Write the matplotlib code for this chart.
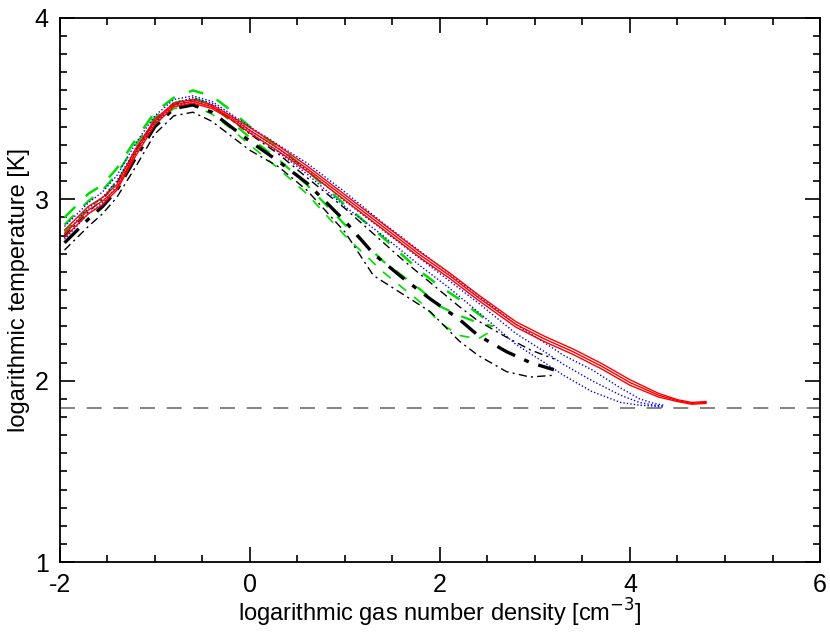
import matplotlib
matplotlib.use("Agg")
import matplotlib.pyplot as plt
from matplotlib.ticker import MultipleLocator

plt.rcParams["font.family"] = ["Liberation Sans", "DejaVu Sans"]
plt.rcParams["axes.unicode_minus"] = False

# red solid tracks
red_x = [-1.95, -1.7, -1.55, -1.4, -1.2, -1.0, -0.8, -0.6, -0.4, -0.2, 0.0, 0.3, 0.6, 1.0,
         1.4, 1.8, 2.1, 2.4, 2.8, 3.1, 3.4, 3.7, 4.0, 4.3, 4.5, 4.65, 4.8]
red_y1 = [2.81, 2.94, 2.99, 3.06, 3.26, 3.43, 3.52, 3.54, 3.51, 3.45, 3.38, 3.28, 3.17, 3.01,
          2.85, 2.69, 2.58, 2.46, 2.31, 2.23, 2.16, 2.08, 1.99, 1.92, 1.89, 1.875, 1.88]
red_y2 = [2.83, 2.96, 3.01, 3.08, 3.28, 3.44, 3.53, 3.55, 3.52, 3.46, 3.395, 3.295, 3.185, 3.025,
          2.865, 2.705, 2.595, 2.475, 2.325, 2.245, 2.175, 2.095, 2.005, 1.93, 1.895, 1.88, 1.885]
red_y3 = [2.79, 2.92, 2.97, 3.05, 3.24, 3.41, 3.51, 3.53, 3.50, 3.44, 3.365, 3.265, 3.155, 2.995,
          2.835, 2.675, 2.565, 2.445, 2.295, 2.215, 2.145, 2.065, 1.975, 1.91, 1.885, 1.87, 1.875]

# blue dotted tracks
blue_x = [-1.95, -1.7, -1.55, -1.4, -1.2, -1.0, -0.8, -0.6, -0.4, -0.2, 0.0, 0.3, 0.6, 1.0,
          1.4, 1.8, 2.1, 2.4, 2.8, 3.1, 3.3, 3.6, 3.9, 4.1, 4.25, 4.35]
blue_y1 = [2.85, 2.98, 3.04, 3.13, 3.31, 3.46, 3.55, 3.57, 3.54, 3.47, 3.40, 3.30, 3.20, 3.04,
           2.87, 2.71, 2.59, 2.47, 2.31, 2.21, 2.14, 2.06, 1.96, 1.90, 1.875, 1.865]
blue_y2 = [2.81, 2.95, 3.01, 3.10, 3.28, 3.44, 3.53, 3.56, 3.53, 3.46, 3.38, 3.28, 3.16, 2.99,
           2.83, 2.67, 2.55, 2.43, 2.26, 2.16, 2.09, 2.00, 1.92, 1.88, 1.865, 1.86]
blue_y3 = [2.78, 2.92, 2.98, 3.07, 3.25, 3.42, 3.51, 3.54, 3.51, 3.44, 3.37, 3.26, 3.14, 2.96,
           2.80, 2.63, 2.51, 2.38, 2.20, 2.10, 2.03, 1.94, 1.88, 1.865, 1.86, 1.855]

# green dashed tracks
green_x = [-1.95, -1.7, -1.55, -1.4, -1.2, -1.0, -0.8, -0.6, -0.4, -0.2, 0.0, 0.3, 0.6, 1.0,
           1.4, 1.8, 2.0, 2.2, 2.4, 2.56]
green_y1 = [2.90, 3.03, 3.08, 3.17, 3.33, 3.48, 3.56, 3.60, 3.57, 3.49, 3.40, 3.29, 3.16, 2.97,
            2.79, 2.60, 2.52, 2.45, 2.37, 2.31]
green_y2 = [2.86, 2.99, 3.05, 3.14, 3.30, 3.45, 3.53, 3.56, 3.52, 3.43, 3.34, 3.22, 3.08, 2.86,
            2.66, 2.50, 2.41, 2.36, 2.32, 2.30]
green_y3 = [2.82, 2.95, 3.01, 3.10, 3.27, 3.42, 3.50, 3.52, 3.47, 3.39, 3.30, 3.17, 3.03, 2.80,
            2.60, 2.43, 2.32, 2.25, 2.23, 2.28]

# black dash-dot tracks
black_x = [-1.95, -1.7, -1.55, -1.4, -1.2, -1.0, -0.8, -0.6, -0.4, -0.2, 0.0, 0.3, 0.6, 1.0,
           1.3, 1.6, 1.9, 2.2, 2.4, 2.7, 2.95, 3.2]
black_y1 = [2.80, 2.93, 3.00, 3.09, 3.27, 3.43, 3.52, 3.55, 3.52, 3.44, 3.36, 3.25, 3.12, 2.95,
            2.81, 2.67, 2.54, 2.41, 2.33, 2.24, 2.17, 2.12]
black_y2 = [2.76, 2.89, 2.96, 3.05, 3.23, 3.40, 3.50, 3.52, 3.48, 3.40, 3.32, 3.21, 3.09, 2.88,
            2.70, 2.57, 2.45, 2.34, 2.25, 2.16, 2.10, 2.06]
black_y3 = [2.72, 2.85, 2.92, 3.01, 3.18, 3.36, 3.46, 3.48, 3.43, 3.35, 3.27, 3.18, 3.05, 2.82,
            2.58, 2.48, 2.38, 2.22, 2.14, 2.05, 2.02, 2.03]

floor_temp = 1.85


def main():
    fig = plt.figure(figsize=(8.3, 6.38), dpi=100)
    ax = fig.add_axes([0.072, 0.119, 0.916, 0.853])

    ax.axhline(floor_temp, color="#707070", lw=1.2, ls=(0, (9, 7)), zorder=1)

    for y in (red_y1, red_y2, red_y3):
        ax.plot(red_x, y, color="red", lw=1.0, ls="-", zorder=4)
    for y in (blue_y1, blue_y2, blue_y3):
        ax.plot(blue_x, y, color="blue", lw=1.0, ls=(0, (1, 1.5)), zorder=3)
    for y, lw in zip((green_y1, green_y2, green_y3), (1.8, 1.6, 1.2)):
        ax.plot(green_x, y, color="#00dd00", lw=lw, ls=(0, (6, 6)), zorder=2)
    for y, lw in zip((black_y1, black_y2, black_y3), (1.0, 2.4, 1.0)):
        ax.plot(black_x, y, color="black", lw=lw, ls=(0, (6, 3, 1.5, 3)), zorder=2)

    ax.set_xlim(-2, 6)
    ax.set_ylim(1, 4)
    ax.xaxis.set_major_locator(MultipleLocator(2))
    ax.xaxis.set_minor_locator(MultipleLocator(0.5))
    ax.yaxis.set_major_locator(MultipleLocator(1))
    ax.yaxis.set_minor_locator(MultipleLocator(0.1))
    ax.tick_params(which="both", direction="in", top=True, right=True, labelsize=18, width=1.2)
    ax.tick_params(which="major", length=11, pad=8)
    ax.tick_params(which="minor", length=5)
    for s in ax.spines.values():
        s.set_linewidth(1.3)

    ax.set_xlabel(r"logarithmic gas number density [cm$^{-3}$]", fontsize=17, labelpad=0)
    ax.set_ylabel("logarithmic temperature [K]", fontsize=17, labelpad=3)

    fig.savefig("out.png", dpi=100)
    plt.close(fig)


if __name__ == "__main__":
    main()
